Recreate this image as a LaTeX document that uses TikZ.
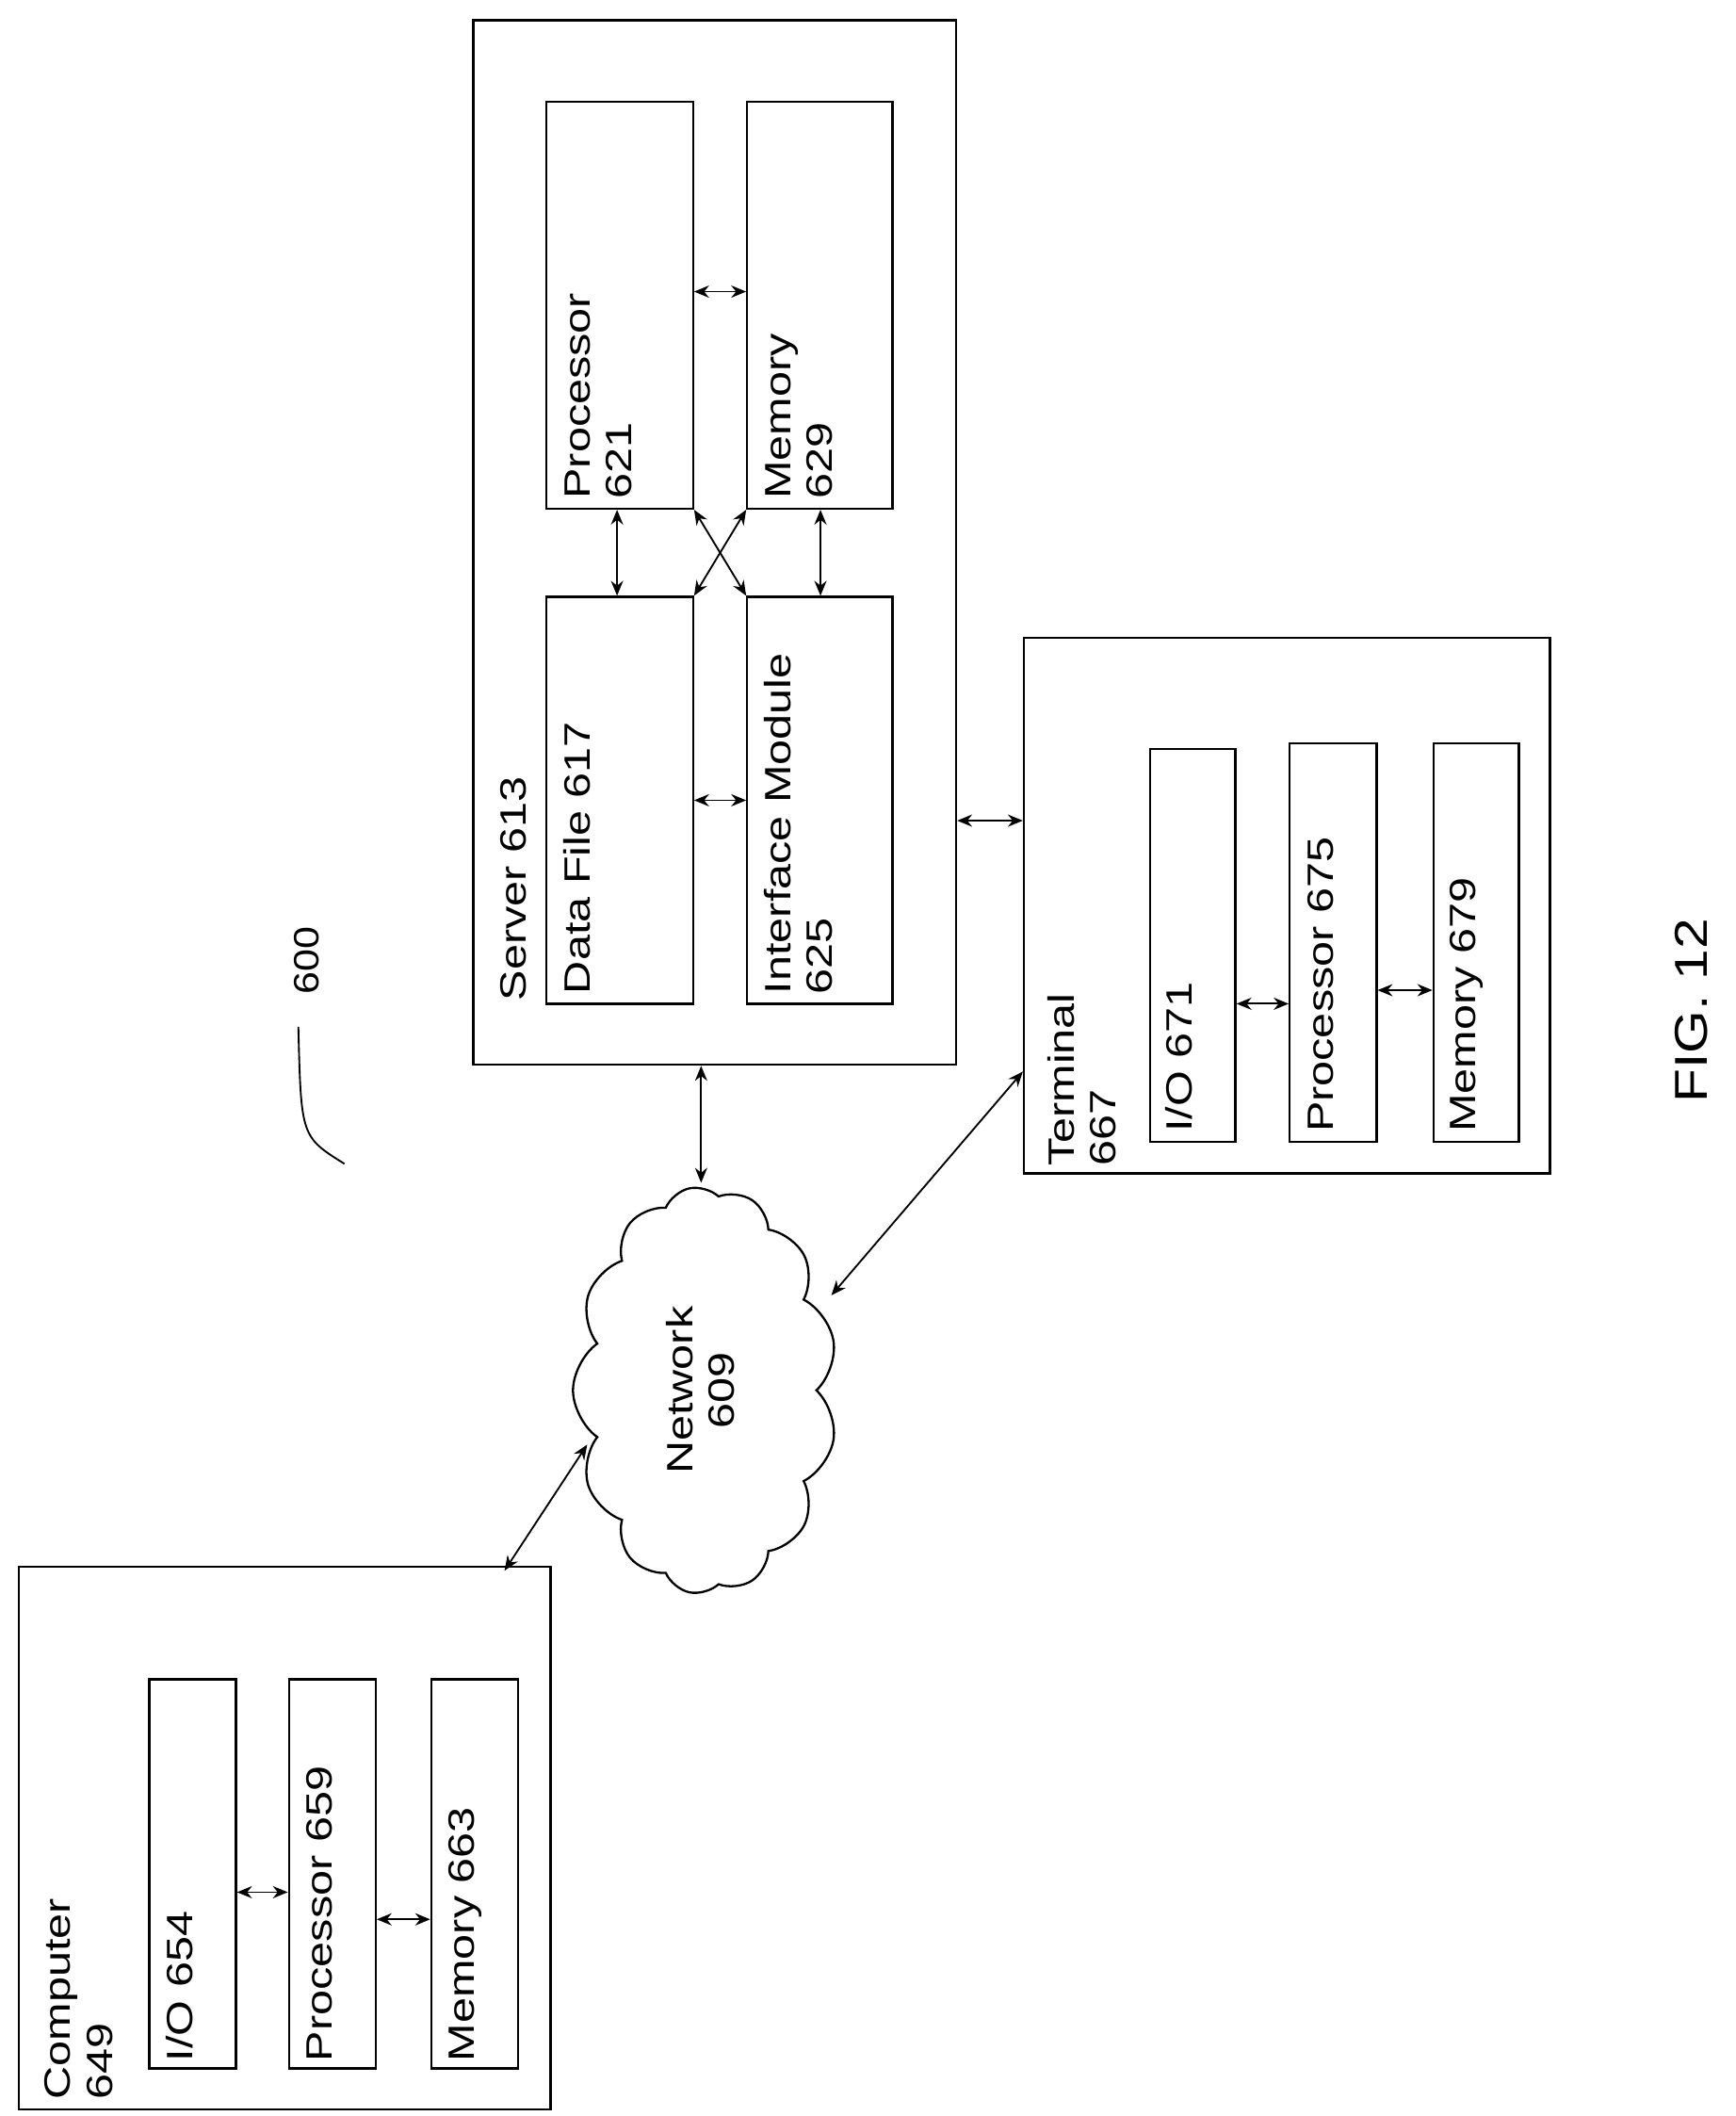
\documentclass[tikz,border=0pt]{standalone}
\usepackage{fontspec}
\setmainfont{Liberation Sans}
\usetikzlibrary{shapes.symbols,arrows.meta}
\newcommand{\lbl}[1]{\scalebox{1.25}[1]{\begin{tabular}{@{}l@{}}#1\end{tabular}}}
\begin{document}
\begin{tikzpicture}[x=1pt,y=-1pt,
  box/.style={draw,line width=1.6pt,inner sep=0pt},
  txt/.style={rotate=90,anchor=north west,inner sep=0pt,font=\fontsize{27}{31}\selectfont,align=left},
  link/.style={line width=1.3pt,{Stealth[length=11pt,width=9pt]}-{Stealth[length=11pt,width=9pt]}}]
\useasboundingbox (0,0) rectangle (1280,1560);
% server
\node[box,minimum width=356pt,minimum height=770pt] (srv) at (527,400) {};
\node[txt] (srvl) at (366,738) {\lbl{Server 613}};
\node[box,minimum width=108pt,minimum height=300pt] (df) at (457,590) {};
\node[txt] (dfl) at (413,733) {\lbl{Data File 617}};
\node[box,minimum width=107pt,minimum height=300pt] (im) at (604.5,590) {};
\node[txt] (iml) at (561,733) {\lbl{Interface Module\\625}};
\node[box,minimum width=108pt,minimum height=300pt] (pr) at (457,225) {};
\node[txt] (prl) at (413,368) {\lbl{Processor\\621}};
\node[box,minimum width=107pt,minimum height=300pt] (me) at (604.5,225) {};
\node[txt] (mel) at (561,368) {\lbl{Memory\\629}};
\draw[link] (pr.east |- 0,215) -- (me.west |- 0,215);
\draw[link] (df.east |- 0,590) -- (im.west |- 0,590);
\draw[link] (pr.south -| 455,0) -- (df.north -| 455,0);
\draw[link] (me.south -| 605,0) -- (im.north -| 605,0);
\draw[link] (pr.south east) -- (im.north west);
\draw[link] (me.south west) -- (df.north east);
% terminal
\node[box,minimum width=388pt,minimum height=395pt] (ter) at (949,667.5) {};
\node[txt] (terl) at (770,860) {\lbl{Terminal\\667}};
\node[box,minimum width=63pt,minimum height=290pt] (tio) at (879.5,697) {};
\node[txt] (tiol) at (857,835) {\lbl{I/O 671}};
\node[box,minimum width=64pt,minimum height=294pt] (tpr) at (983,695) {};
\node[txt] (tprl) at (961,835) {\lbl{Processor 675}};
\node[box,minimum width=63pt,minimum height=294pt] (tme) at (1088.5,695) {};
\node[txt] (tmel) at (1066,835) {\lbl{Memory 679}};
\draw[link] (tio.east |- 0,740) -- (tpr.west |- 0,740);
\draw[link] (tpr.east |- 0,730) -- (tme.west |- 0,730);
\draw[link] (srv.east |- 0,605) -- (ter.west |- 0,605);
% network
\node[cloud,draw,line width=1.6pt,cloud puffs=13,cloud puff arc=110,aspect=0.62,minimum width=300pt,minimum height=195pt,rotate=90] (net) at (520,1025) {};
\node[rotate=90,inner sep=0pt,font=\fontsize{27}{31}\selectfont] (netl) at (520,1025) {\scalebox{1.25}[1]{\begin{tabular}{@{}c@{}}Network\\609\end{tabular}}};
\coordinate (nt) at (613,955);
\coordinate (nc) at (433,1065);
\coordinate (nn) at (517,872);
\draw[link] (srv.south -| 517,0) -- (nn);
\draw[link] (nt) -- (ter.west |- 0,790);
% computer
\node[box,minimum width=392pt,minimum height=400pt] (cmp) at (210,1355) {};
\node[txt] (cmpl) at (30,1548) {\lbl{Computer\\649}};
\node[box,minimum width=64pt,minimum height=287pt] (cio) at (142,1381.5) {};
\node[txt] (ciol) at (120,1520) {\lbl{I/O 654}};
\node[box,minimum width=64pt,minimum height=287pt] (cpr) at (245,1381.5) {};
\node[txt] (cprl) at (223,1520) {\lbl{Processor 659}};
\node[box,minimum width=64pt,minimum height=287pt] (cme) at (350,1381.5) {};
\node[txt] (cmel) at (328,1520) {\lbl{Memory 663}};
\draw[link] (cio.east |- 0,1395) -- (cpr.west |- 0,1395);
\draw[link] (cpr.east |- 0,1415) -- (cme.west |- 0,1415);
\draw[link] (nc) -- (372,1158);
% 600
\node[rotate=90,font=\fontsize{26}{30}\selectfont,inner sep=0pt] (l600) at (226,708) {\scalebox{1.15}[1]{600}};
\coordinate (c1) at (220,757);
\coordinate (c2) at (254,858);
\draw[line width=1.3pt] (c1) .. controls (222,838) .. (c2);
% fig
\node[rotate=90,font=\fontsize{34}{40}\selectfont,inner sep=0pt] (fig) at (1247,745) {\scalebox{1.2}[1]{FIG. 12}};
\end{tikzpicture}
\end{document}
